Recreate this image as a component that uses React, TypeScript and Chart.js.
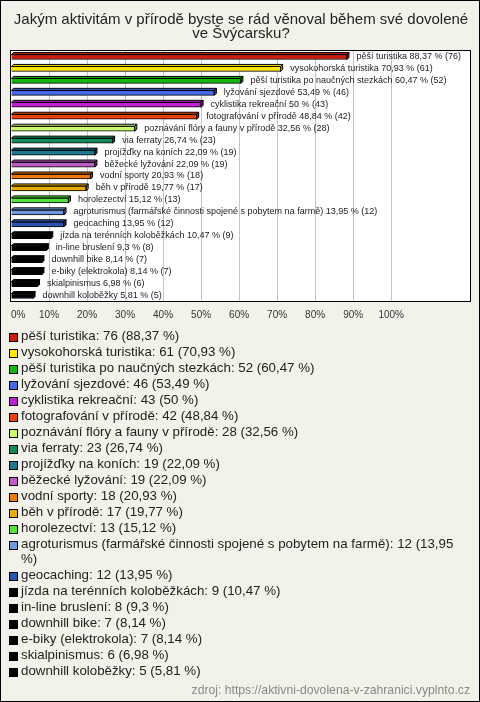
import React, { useEffect, useRef } from "react";
import { Chart, registerables } from "chart.js";

Chart.register(...registerables);

const FONT = '"Liberation Sans", Arial, sans-serif';

const titleLines = [
  "Jakým aktivitám v přírodě byste se rád věnoval během své dovolené",
  "ve Švýcarsku?",
];

const categories = [
  "pěší turistika",
  "vysokohorská turistika",
  "pěší turistika po naučných stezkách",
  "lyžování sjezdové",
  "cyklistika rekreační",
  "fotografování v přírodě",
  "poznávání flóry a fauny v přírodě",
  "via ferraty",
  "projížďky na koních",
  "běžecké lyžování",
  "vodní sporty",
  "běh v přírodě",
  "horolezectví",
  "agroturismus (farmářské činnosti spojené s pobytem na farmě)",
  "geocaching",
  "jízda na terénních koloběžkách",
  "in-line bruslení",
  "downhill bike",
  "e-biky (elektrokola)",
  "skialpinismus",
  "downhill koloběžky",
];

const counts = [76, 61, 52, 46, 43, 42, 28, 23, 19, 19, 18, 17, 13, 12, 12, 9, 8, 7, 7, 6, 5];

const percents = [
  88.37, 70.93, 60.47, 53.49, 50, 48.84, 32.56, 26.74, 22.09, 22.09, 20.93, 19.77, 15.12,
  13.95, 13.95, 10.47, 9.3, 8.14, 8.14, 6.98, 5.81,
];

const colors = [
  "#cc1d0c",
  "#ffe600",
  "#12b812",
  "#4468e8",
  "#c020d4",
  "#e8420e",
  "#ccf870",
  "#128c5a",
  "#1e7890",
  "#bc5cc4",
  "#ee7808",
  "#e8ac08",
  "#52e23e",
  "#7098e0",
  "#2a52b0",
  "#000000",
  "#000000",
  "#000000",
  "#000000",
  "#000000",
  "#000000",
];

const xTickMax = 100;
const footerText = "zdroj: https://aktivni-dovolena-v-zahranici.vyplnto.cz";

const fmt = (v: number) => String(v).replace(".", ",");

function darken(hex: string, f: number) {
  const n = parseInt(hex.slice(1), 16);
  const r = Math.round(((n >> 16) & 255) * f);
  const g = Math.round(((n >> 8) & 255) * f);
  const b = Math.round((n & 255) * f);
  return `rgb(${r},${g},${b})`;
}

const framePlugin = {
  id: "frame3d",
  beforeDraw(chart: any) {
    const { ctx, chartArea: a } = chart;
    ctx.save();
    ctx.fillStyle = "#ffffff";
    ctx.fillRect(a.left - 1, a.top, a.right - a.left + 1, a.bottom - a.top);
    ctx.restore();
  },
  afterDatasetsDraw(chart: any) {
    const { ctx } = chart;
    const meta = chart.getDatasetMeta(0);
    const d = 2;
    ctx.save();
    ctx.lineWidth = 1;
    ctx.strokeStyle = "#000";
    meta.data.forEach((el: any, i: number) => {
      const p = el.getProps(["x", "y", "base", "height"], true);
      const top = p.y - p.height / 2;
      const bottom = p.y + p.height / 2;
      const c = colors[i];
      ctx.beginPath();
      ctx.moveTo(p.base, top);
      ctx.lineTo(p.x, top);
      ctx.lineTo(p.x + d, top - d);
      ctx.lineTo(p.base + d, top - d);
      ctx.closePath();
      ctx.fillStyle = c;
      ctx.fill();
      ctx.stroke();
      ctx.beginPath();
      ctx.moveTo(p.x, top);
      ctx.lineTo(p.x + d, top - d);
      ctx.lineTo(p.x + d, bottom - d);
      ctx.lineTo(p.x, bottom);
      ctx.closePath();
      ctx.fillStyle = darken(c, 0.7);
      ctx.fill();
      ctx.stroke();
      ctx.font = `9px ${FONT}`;
      ctx.fillStyle = "#222";
      ctx.textAlign = "left";
      ctx.textBaseline = "middle";
      ctx.fillText(
        `${categories[i]} ${fmt(percents[i])} % (${counts[i]})`,
        p.x + 9.5,
        p.y - 0.5
      );
    });
    ctx.restore();
  },
  afterDraw(chart: any) {
    const { ctx, chartArea: a } = chart;
    ctx.save();
    ctx.strokeStyle = "#000";
    ctx.lineWidth = 1;
    const l = Math.floor(a.left) - 0.5;
    const t = Math.floor(a.top) - 0.5;
    const r = Math.floor(a.right) - 0.5;
    const b = Math.floor(a.bottom) - 0.5;
    ctx.strokeRect(l, t, r - l, b - t);
    ctx.restore();
  },
};

export default function App() {
  const ref = useRef<HTMLCanvasElement>(null);

  useEffect(() => {
    const chart = new Chart(ref.current as HTMLCanvasElement, {
      type: "bar",
      data: {
        labels: categories,
        datasets: [
          {
            data: percents,
            backgroundColor: colors,
            borderColor: "#000",
            borderWidth: 1,
            barThickness: 5,
          },
        ],
      },
      options: {
        indexAxis: "y",
        responsive: false,
        animation: false,
        devicePixelRatio: 1,
        layout: { padding: { left: 11, right: 9, top: 0, bottom: 2 } },
        plugins: {
          legend: { display: false },
          tooltip: { enabled: false },
          title: {
            display: true,
            text: titleLines,
            color: "#222",
            font: { family: FONT, size: 15, weight: "normal", lineHeight: 0.95 },
            padding: { top: 12.5, bottom: 10 },
          },
        },
        scales: {
          x: {
            min: 0,
            max: 121,
            border: { display: false },
            grid: {
              drawTicks: false,
              color: (ctx: any) =>
                ctx.tick && ctx.tick.value > 0 && ctx.tick.value <= xTickMax ? "#c4c4c4" : "rgba(0,0,0,0)",
            },
            ticks: {
              stepSize: 10,
              padding: 7,
              align: "inner",
              maxRotation: 0,
              autoSkip: false,
              color: "#333",
              font: { family: FONT, size: 10 },
              callback: (v: any) => (Number(v) <= xTickMax && Number(v) % 10 === 0 ? `${v}%` : ""),
            },
          },
          y: { display: false },
        },
      },
      plugins: [framePlugin],
    } as any);
    return () => chart.destroy();
  }, []);

  return (
    <div
      style={{
        position: "fixed",
        left: 0,
        top: 0,
        width: 480,
        height: 702,
        background: "#f3f2ea",
        fontFamily: FONT,
        overflow: "hidden",
      }}
    >
      <canvas
        ref={ref}
        width={480}
        height={330}
        style={{ position: "absolute", left: 0, top: 0, width: 480, height: 330 }}
      />
      <div style={{ position: "absolute", left: 9, top: 328, width: 465 }}>
        {categories.map((c, i) => (
          <div
            key={c + i}
            style={{
              display: "flex",
              alignItems: "flex-start",
              marginBottom: 1,
              lineHeight: "15px",
              fontSize: 13.3,
              color: "#222",
            }}
          >
            <span
              style={{
                flex: "0 0 auto",
                width: 9,
                height: 9,
                boxSizing: "border-box",
                border: "1px solid #000",
                background: colors[i],
                marginTop: 5,
                marginRight: 3,
              }}
            />
            <span style={{ width: 445 }}>{`${c}: ${counts[i]} (${fmt(percents[i])} %)`}</span>
          </div>
        ))}
      </div>
      <div
        style={{
          position: "absolute",
          right: 10,
          top: 683,
          fontSize: 12.2,
          lineHeight: "14px",
          color: "#888",
          whiteSpace: "nowrap",
        }}
      >
        {footerText}
      </div>
      <div
        style={{
          position: "absolute",
          left: 0,
          top: 0,
          right: 0,
          bottom: 0,
          border: "1px solid #000",
          boxSizing: "border-box",
          pointerEvents: "none",
        }}
      />
    </div>
  );
}
